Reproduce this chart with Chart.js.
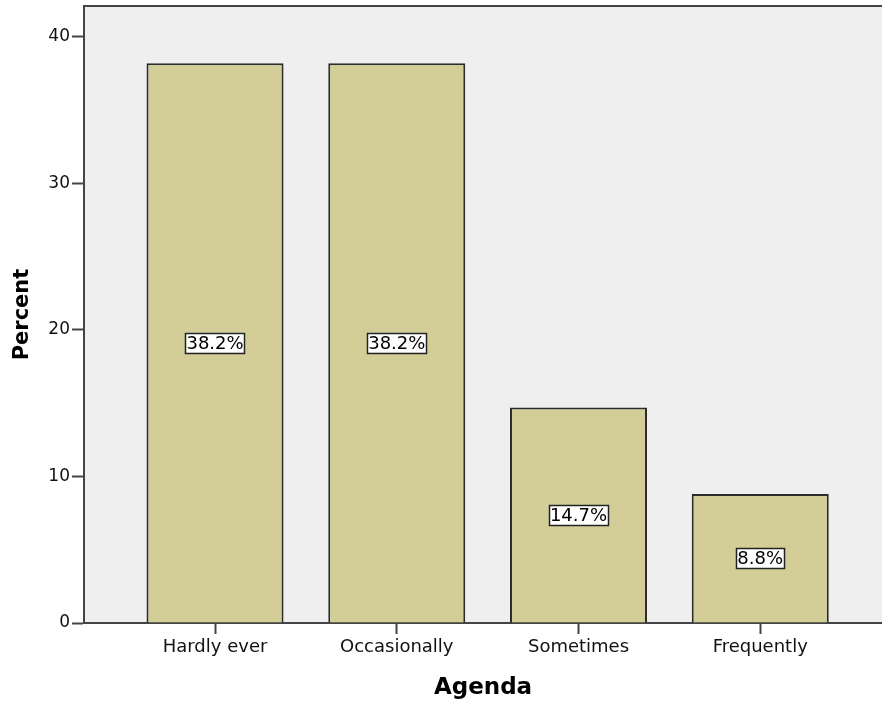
<!DOCTYPE html>
<html>
<head>
<meta charset="utf-8">
<script src="https://cdn.jsdelivr.net/npm/chart.js@4.4.1/dist/chart.umd.min.js"></script>
<style>
  html, body { margin: 0; padding: 0; background: #fff; overflow: hidden; }
  #wrap { width: 882px; height: 702px; }
</style>
</head>
<body>
<div id="wrap"><canvas id="grafico"></canvas></div>
<script>
// dados
const categorias = ['Hardly ever', 'Occasionally', 'Sometimes', 'Frequently'];
const percentuais = [38.2, 38.2, 14.7, 8.8];
const rotulos = ['38.2%', '38.2%', '14.7%', '8.8%'];
const ticksY = [0, 10, 20, 30, 40];

const fonte = '"DejaVu Sans", Verdana, sans-serif';

// fundo cinza e linha de cima do quadro
const quadro = {
  id: 'quadro',
  beforeDraw(chart) {
    const { ctx, chartArea: a } = chart;
    ctx.save();
    ctx.fillStyle = '#efefef';
    ctx.fillRect(a.left, a.top, a.right - a.left, a.bottom - a.top);
    ctx.strokeStyle = '#444';
    ctx.lineWidth = 2;
    ctx.beginPath();
    ctx.moveTo(a.left, a.top);
    ctx.lineTo(a.right, a.top);
    ctx.stroke();
    ctx.restore();
  }
};

// caixinhas com o valor no meio da barra
const rotulosBarras = {
  id: 'rotulosBarras',
  afterDatasetsDraw(chart) {
    const { ctx } = chart;
    const meta = chart.getDatasetMeta(0);
    ctx.save();
    ctx.font = '18px ' + fonte;
    ctx.textAlign = 'center';
    ctx.textBaseline = 'middle';
    meta.data.forEach((bar, i) => {
      const txt = rotulos[i];
      const y = (bar.y + bar.base) / 2;
      const w = ctx.measureText(txt).width + 2;
      const h = 20;
      ctx.fillStyle = '#fff';
      ctx.fillRect(bar.x - w / 2, y - h / 2, w, h);
      ctx.strokeStyle = '#222';
      ctx.lineWidth = 1.5;
      ctx.strokeRect(Math.round(bar.x - w / 2) + 0.5, Math.round(y - h / 2) + 0.5, Math.round(w), h);
      ctx.fillStyle = '#000';
      ctx.fillText(txt, bar.x, y + 1);
    });
    ctx.restore();
  }
};

const ctxGrafico = document.getElementById('grafico');
new Chart(ctxGrafico, {
  type: 'bar',
  data: {
    datasets: [{
      label: 'Percent',
      data: categorias.map((c, i) => ({ x: i, y: percentuais[i] })),
      backgroundColor: '#d3ce98',
      borderColor: '#2b2b2b',
      borderWidth: 2,
      categoryPercentage: 1,
      barPercentage: 0.754
    }]
  },
  options: {
    responsive: true,
    maintainAspectRatio: false,
    animation: false,
    layout: { padding: { top: 6, right: 0, left: 0, bottom: 0 } },
    plugins: { legend: { display: false }, tooltip: { enabled: false } },
    scales: {
      x: {
        type: 'linear',
        offset: false,
        min: -0.721,
        max: 3.67,
        afterBuildTicks: (s) => { s.ticks = categorias.map((c, i) => ({ value: i })); },
        afterFit: (s) => { s.height = 79; s.paddingLeft = 0; s.paddingRight = 0; },
        ticks: {
          callback: (v) => categorias[v],
          color: '#111',
          font: { family: fonte, size: 18 },
          padding: 3,
          maxRotation: 0
        },
        grid: { offset: false, drawOnChartArea: false, tickLength: 11, tickColor: '#444', tickWidth: 2 },
        border: { color: '#444', width: 2 },
        title: {
          display: true,
          text: 'Agenda',
          color: '#000',
          font: { family: fonte, size: 23, weight: 'bold' },
          padding: { top: 14, bottom: 0 }
        }
      },
      y: {
        min: 0,
        max: 42.1,
        afterBuildTicks: (s) => { s.ticks = ticksY.map(v => ({ value: v })); },
        afterFit: (s) => { s.width = 84; s.paddingTop = 0; s.paddingBottom = 0; },
        ticks: {
          color: '#111',
          font: { family: fonte, size: 17 },
          padding: 2
        },
        grid: { drawOnChartArea: false, tickLength: 12, tickColor: '#444', tickWidth: 2 },
        border: { color: '#444', width: 2 },
        title: {
          display: true,
          text: 'Percent',
          color: '#000',
          font: { family: fonte, size: 21, weight: 'bold' },
          padding: { top: 10, bottom: 0 }
        }
      }
    }
  },
  plugins: [quadro, rotulosBarras]
});
</script>
</body>
</html>
